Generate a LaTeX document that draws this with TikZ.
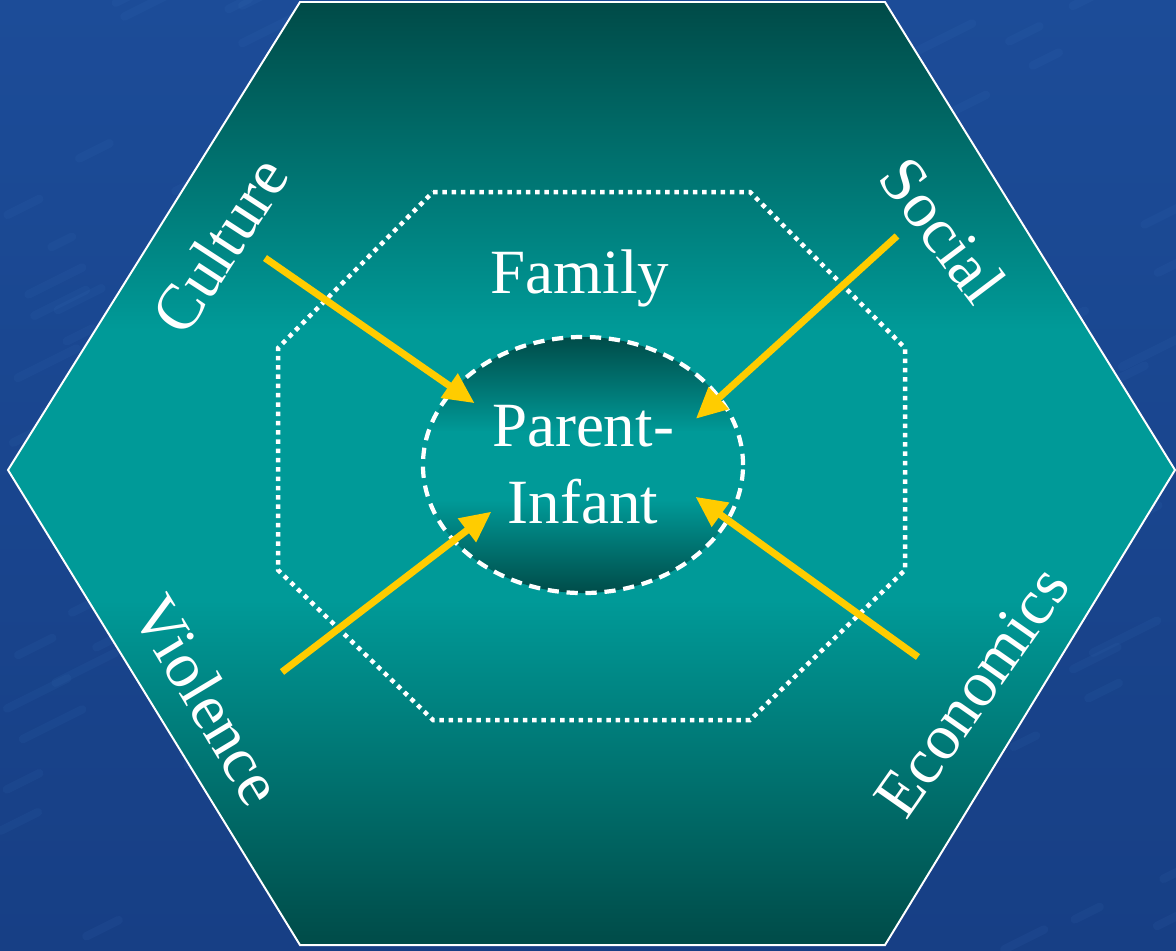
\documentclass[tikz,border=0pt]{standalone}
\usepackage{fontspec}
\setmainfont{Liberation Serif}
\usetikzlibrary{arrows.meta, shapes.geometric}
\definecolor{bgblue}{HTML}{1C4C98}
\definecolor{bgdark}{HTML}{173F85}
\definecolor{bgstreak}{HTML}{3F78C0}
\definecolor{tealdk}{HTML}{004A47}
\definecolor{tealmd}{HTML}{009A98}
\definecolor{arrgold}{HTML}{FFCC00}

\tikzset{
  sidelabel/.style={text=white, font=\fontsize{46}{54}\selectfont, inner sep=0pt},
  influence/.style={arrgold, line width=5pt, -{Triangle[length=22pt, width=20pt]}, shorten >=-4pt},
  ringline/.style={white, line width=3.2pt, dash pattern=on 3.2pt off 3.4pt},
}

\begin{document}
\begin{tikzpicture}[x=0.025cm, y=-0.025cm]

% Background
\useasboundingbox (0,0) rectangle (1176,950);
\shade[top color=bgblue, bottom color=bgdark] (0,0) rectangle (1176,950);
\pgfmathsetseed{11}
\foreach \i in {1,...,160} {
  \pgfmathsetmacro{\sx}{rnd*1176}
  \pgfmathsetmacro{\sy}{rnd*950}
  \pgfmathsetmacro{\sl}{20+rnd*50}
  \draw[bgstreak, line width=6pt, opacity=0.1, line cap=round]
    (\sx,\sy) -- ++(\sl,-0.5*\sl);
}

% Outer hexagon
\begin{scope}
  \clip (300,2) -- (885,2) -- (1175,470) -- (885,945) -- (300,945) -- (8,470) -- cycle;
  \shade[top color=tealdk, bottom color=tealmd] (0,0) rectangle (1176,330);
  \fill[tealmd] (0,329) rectangle (1176,601);
  \shade[top color=tealmd, bottom color=tealdk] (0,600) rectangle (1176,950);
\end{scope}
\draw[white, line width=1.4pt]
  (300,2) -- (885,2) -- (1175,470) -- (885,945) -- (300,945) -- (8,470) -- cycle;

% Family octagon (dotted)
\draw[ringline] (433,192) -- (750,192) -- (905,348) -- (905,570)
  -- (750,720) -- (433,720) -- (278,570) -- (278,348) -- cycle;
\node[text=white, font=\fontsize{44.8}{54}\selectfont] (family) at (580,278) {Family};

% Parent-infant ellipse fill
\begin{scope}
  \clip (583,465) ellipse [x radius=160, y radius=128];
  \shade[top color=tealdk, bottom color=tealmd] (420,335) rectangle (750,432);
  \fill[tealmd] (420,431) rectangle (750,501);
  \shade[top color=tealmd, bottom color=tealdk] (420,500) rectangle (750,595);
\end{scope}
\node[ellipse, minimum width=8cm, minimum height=6.4cm, inner sep=0pt,
      draw=white, line width=3pt, dash pattern=on 8pt off 5.5pt,
      text=white, align=center, font=\fontsize{44.8}{54.6}\selectfont] (pi) at (583,465)
      {Parent-\\Infant};

% Side labels
\node[sidelabel, rotate=57] (culture) at (220,245) {Culture};
\node[sidelabel, rotate=-53] (social) at (943,230) {Social};
\node[sidelabel, rotate=-59] (violence) at (208,700) {Violence};
\node[sidelabel, rotate=55] (economics) at (972,692) {Economics};

% Arrow ends
\coordinate (cultureTail) at (265,258);
\coordinate (cultureHead) at (470,400);
\coordinate (socialTail) at (897,236);
\coordinate (socialHead) at (700,415);
\coordinate (violenceTail) at (282,672);
\coordinate (violenceHead) at (487,515);
\coordinate (economicsTail) at (918,657);
\coordinate (economicsHead) at (700,500);

% Influences
\draw[influence] (cultureTail) -- (cultureHead);
\draw[influence] (socialTail) -- (socialHead);
\draw[influence] (violenceTail) -- (violenceHead);
\draw[influence] (economicsTail) -- (economicsHead);

\end{tikzpicture}
\end{document}
